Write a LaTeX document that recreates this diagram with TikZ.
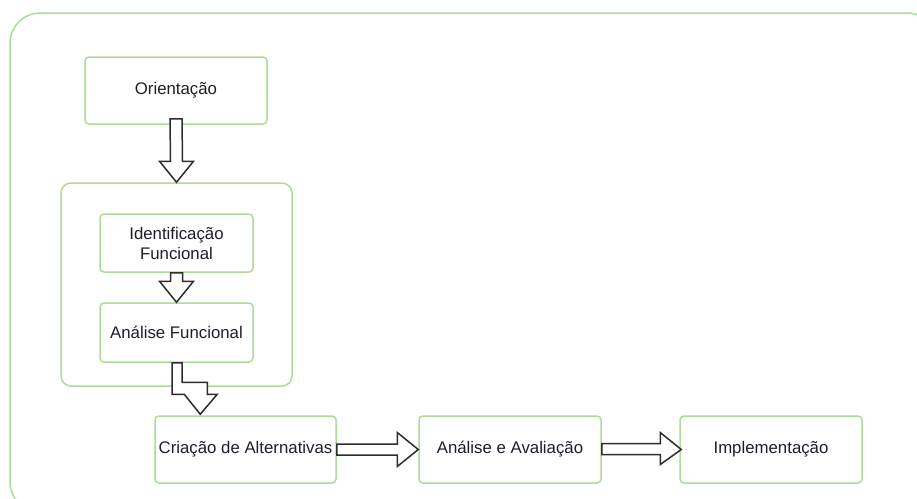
\documentclass[tikz,border=0pt]{standalone}
\usepackage{fontspec}
\setmainfont{Liberation Sans}
\usetikzlibrary{calc}
\definecolor{boxgreen}{RGB}{172,221,150}
\definecolor{txt}{RGB}{30,30,45}
\definecolor{arrowline}{RGB}{45,45,45}
\begin{document}
\begin{tikzpicture}[x=1pt,y=-1pt,
  stagebox/.style={draw=boxgreen, line width=1.5pt, rounded corners=4pt, fill=white,
    text=txt, align=center, font=\fontsize{16.8}{20}\selectfont, inner sep=0pt},
  groupbox/.style={draw=boxgreen, line width=1.5pt, rounded corners=10pt, inner sep=0pt},
  blockarrow/.style={draw=arrowline, line width=1.5pt, fill=white, line join=miter}
]
\useasboundingbox (0,0) rectangle (917,498);
\fill[white] (0,0) rectangle (917,498);

% outer frame, running past the page edges
\begin{scope}
  \clip (0,0) rectangle (917,498);
  \draw[draw=boxgreen, line width=1.5pt, rounded corners=30pt] (10,13) rectangle (937,512);
\end{scope}

% group around the functional steps
\node[groupbox, minimum width=231pt, minimum height=203pt] (group) at (176.5,284.5) {};

% stages
\node[stagebox, minimum width=182pt, minimum height=67pt] (orient) at (176,90.5) {Orientação};
\node[stagebox, minimum width=153pt, minimum height=58pt] (ident) at (176.5,243) {Identificação\\Funcional};
\node[stagebox, minimum width=153pt, minimum height=59pt] (analf) at (176.5,332.5) {Análise Funcional};
\node[stagebox, minimum width=181pt, minimum height=67pt] (criacao) at (245.5,449.5) {Criação de Alternativas};
\node[stagebox, minimum width=182pt, minimum height=67pt] (avalia) at (510,449.5) {Análise e Avaliação};
\node[stagebox, minimum width=182pt, minimum height=67pt] (impl) at (771,449.5) {Implementação};

% Orientação -> group
\draw[blockarrow]
  ($(orient.south)+(-6,-6)$) -- ($(group.north)+(-6,-21)$) -- ($(group.north)+(-17,-21)$)
  -- (group.north) -- ($(group.north)+(17,-21)$) -- ($(group.north)+(6,-21)$)
  -- ($(orient.south)+(6,-6)$) -- cycle;

% Identificação Funcional -> Análise Funcional
\draw[blockarrow]
  ($(ident.south)+(-6,0)$) -- ($(analf.north)+(-6,-21)$) -- ($(analf.north)+(-17,-21)$)
  -- (analf.north) -- ($(analf.north)+(17,-21)$) -- ($(analf.north)+(6,-21)$)
  -- ($(ident.south)+(6,0)$) -- cycle;

% Análise Funcional -> Criação de Alternativas (elbow)
\coordinate (elbowtip) at ($(criacao.north west)+(46,-1)$);
\draw[blockarrow]
  ($(analf.south)+(-4.5,0)$) |- ($(elbowtip)+(-16,-20)$) -- (elbowtip)
  -- ($(elbowtip)+(17,-20)$) -- ($(elbowtip)+(7,-20)$) -- ($(elbowtip)+(7,-32)$)
  -| ($(analf.south)+(5.5,0)$) -- cycle;

% Criação de Alternativas -> Análise e Avaliação
\draw[blockarrow]
  ($(criacao.east)+(0,-5.5)$) -- ($(avalia.west)+(-21,-5.5)$) -- ($(avalia.west)+(-21,-17)$)
  -- (avalia.west) -- ($(avalia.west)+(-21,17)$) -- ($(avalia.west)+(-21,5.5)$)
  -- ($(criacao.east)+(0,5.5)$) -- cycle;

% Análise e Avaliação -> Implementação
\draw[blockarrow]
  ($(avalia.east)+(0,-6)$) -- ($(impl.west)+(-19,-6)$) -- ($(impl.west)+(-19,-17)$)
  -- ($(impl.west)+(2,0)$) -- ($(impl.west)+(-19,15)$) -- ($(impl.west)+(-19,5)$)
  -- ($(avalia.east)+(0,5)$) -- cycle;
\end{tikzpicture}
\end{document}
